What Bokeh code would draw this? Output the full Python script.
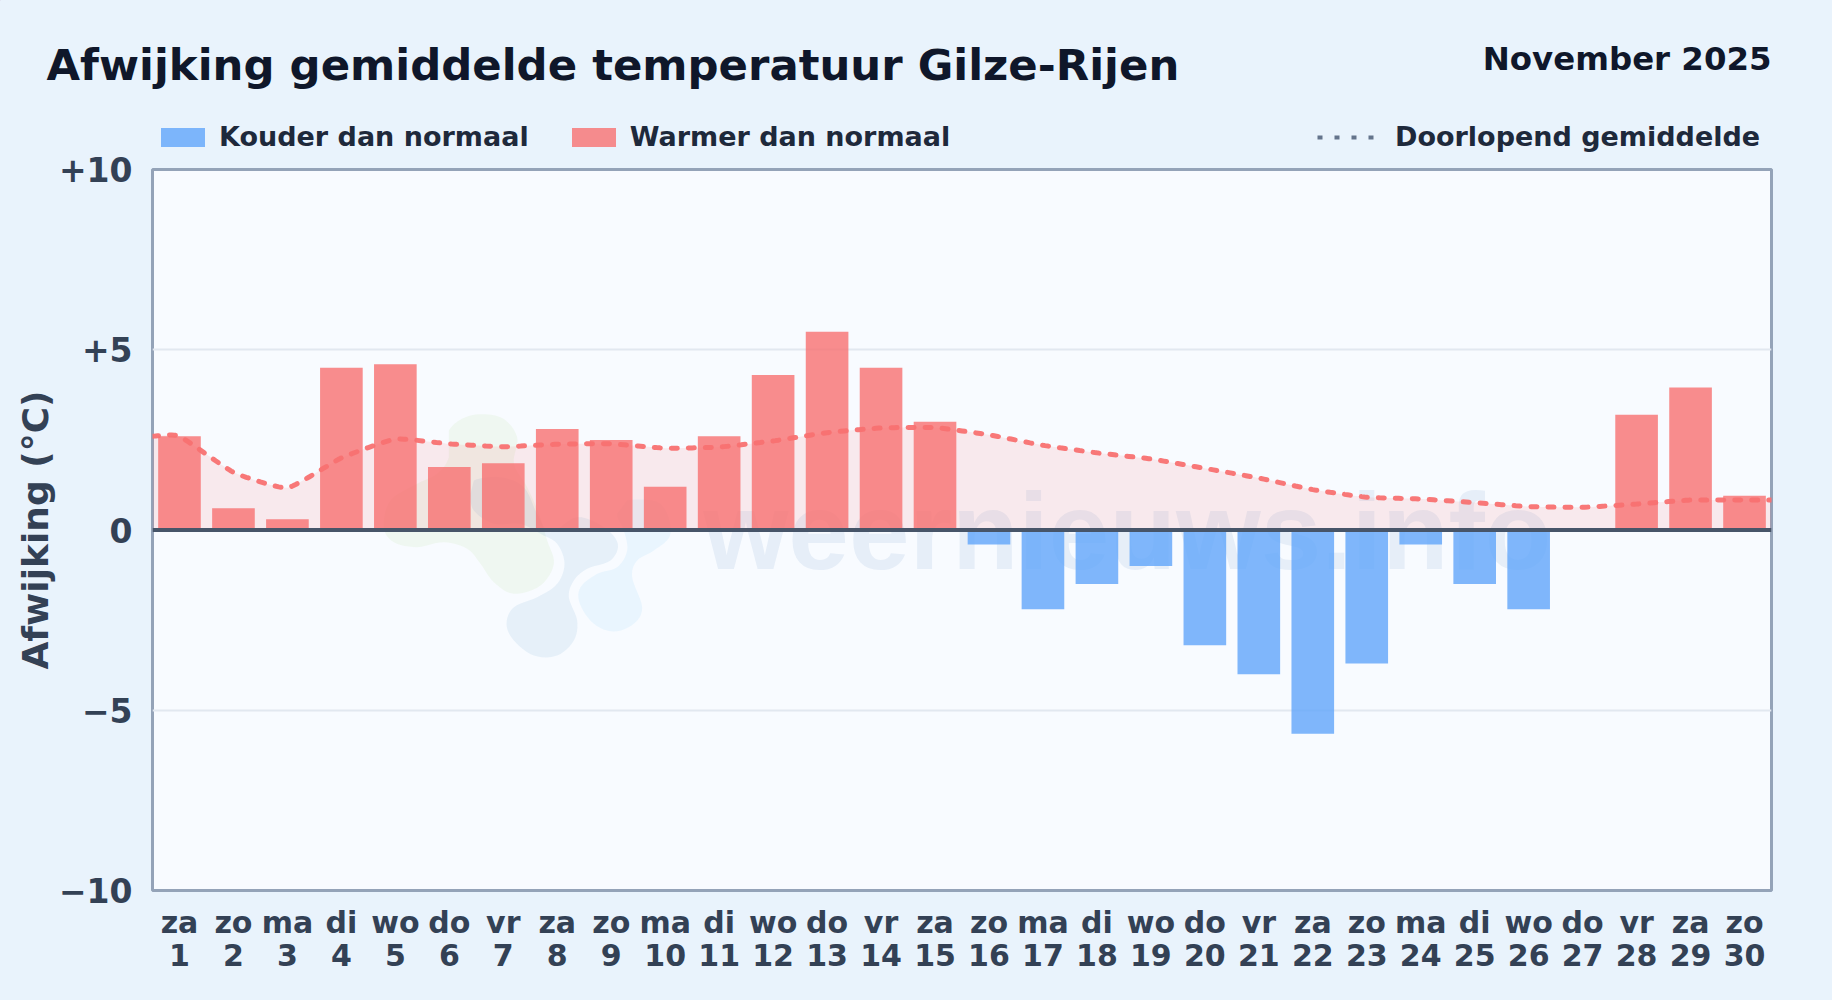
from bokeh.plotting import figure
from bokeh.layouts import column
from bokeh.models import (ColumnDataSource, FixedTicker, Label, Legend, LegendItem, Range1d, Span)
from bokeh.core.properties import value
from bokeh.embed import file_html
from bokeh.resources import INLINE

days = list(range(1, 31))
weekdays = ["za","zo","ma","di","wo","do","vr","za","zo","ma","di","wo","do","vr","za",
            "zo","ma","di","wo","do","vr","za","zo","ma","di","wo","do","vr","za","zo"]
deviation = [2.6,0.6,0.3,4.5,4.6,1.75,1.85,2.8,2.5,1.2,2.6,4.3,5.5,4.5,3.0,
             -0.4,-2.2,-1.5,-1.0,-3.2,-4.0,-5.65,-3.7,-0.4,-1.5,-2.2,0.0,3.2,3.95,0.95]
running_mean = [2.6,1.6,1.17,2.0,2.52,2.39,2.31,2.38,2.39,2.27,2.3,2.47,2.7,2.83,2.84,
                2.64,2.35,2.14,1.97,1.71,1.44,1.12,0.91,0.86,0.76,0.65,0.63,0.72,0.83,0.83]
y_ticks = [-10,-5,0,5,10]
y_tick_labels = ["\u221210","\u22125","0","+5","+10"]
title_text = "Afwijking gemiddelde temperatuur Gilze-Rijen"
period_text = "November 2025"
y_title = "Afwijking (\u00b0C)"
legend_cold = "Kouder dan normaal"
legend_warm = "Warmer dan normaal"
legend_mean = "Doorlopend gemiddelde"
watermark = "weernieuws.info"

W, H = 1832, 1000
HEAD = 153
OVERLAP = 10
FL, FT, FW, FH = 152, 169, 1619, 721
FONT = "DejaVu Sans"
BG = "#e9f3fc"
COLD, WARM = "#60a5fa", "#f87171"

# ---------- main chart ----------
p = figure(width=W, height=H-HEAD+OVERLAP, output_backend="svg", toolbar_location=None,
           x_range=Range1d(0.5, 30.5), y_range=Range1d(-10, 10),
           frame_width=FW, frame_height=FH, frame_align=False,
           min_border_left=FL, min_border_top=FT-HEAD+OVERLAP,
           min_border_right=W-FL-FW, min_border_bottom=H-FT-FH,
           background_fill_color="#f8fbff", border_fill_color=BG,
           outline_line_color="#94a3b8", outline_line_width=3)
p.styles = {"margin-top": f"-{OVERLAP}px"}

def px(x): return 0.5 + (x - FL) / FW * 30
def py(y): return 10 - (y - FT) / FH * 20

def smooth(xs, ys, k=0.45, n=14):
    """Cardinal spline through the read points, for drawing the curve."""
    ox, oy = [], []
    m = len(xs)
    for i in range(m - 1):
        a = max(i - 1, 0); d = min(i + 2, m - 1)
        x0, x1 = xs[i], xs[i + 1]
        y0, y1 = ys[i], ys[i + 1]
        t0x = k * (x1 - xs[a]) / 2; t0y = k * (y1 - ys[a]) / 2
        t1x = k * (xs[d] - x0) / 2; t1y = k * (ys[d] - y0) / 2
        for j in range(n):
            t = j / n
            h00 = 2*t**3 - 3*t**2 + 1; h10 = t**3 - 2*t**2 + t
            h01 = -2*t**3 + 3*t**2; h11 = t**3 - t**2
            ox.append(h00*x0 + h10*t0x + h01*x1 + h11*t1x)
            oy.append(h00*y0 + h10*t0y + h01*y1 + h11*t1y)
    ox.append(xs[-1]); oy.append(ys[-1])
    return ox, oy

def blob(points):
    pts = [(360 + a / 3, 400 + b / 3) for a, b in points]
    xs = [q[0] for q in pts]; ys = [q[1] for q in pts]
    xs = xs[-2:] + xs + xs[:2]; ys = ys[-2:] + ys + ys[:2]
    ox, oy = smooth(xs, ys, k=1.0, n=6)
    return [px(v) for v in ox[12:-12]], [py(v) for v in oy[12:-12]]

# watermark logo
green = [(265,90),(330,45),(420,50),(470,110),(460,190),(500,260),(535,340),(560,420),(580,490),(540,555),
         (460,580),(400,545),(360,490),(320,445),(250,425),(170,440),(100,425),(70,380),(90,300),(170,250),(230,220),(265,170)]
dark = [(340,240),(420,230),(490,260),(530,340),(570,395),(650,350),(730,380),(772,430),(750,480),(680,505),(640,540),
        (625,590),(650,660),(640,720),(590,765),(520,765),(460,720),(438,670),(460,620),(530,590),(590,550),(612,490),
        (590,430),(540,400),(480,370),(400,370),(340,330),(330,280)]
light = [(800,300),(900,310),(930,400),(880,450),(830,480),(815,530),(845,620),(820,670),(760,693),(700,670),
         (658,610),(660,560),(710,520),(770,500),(800,450),(790,390),(770,340)]
for shape, col, al in [(green, "#a3d977", 0.1), (dark, "#3a80b8", 0.09), (light, "#5ab8f5", 0.09)]:
    bx, by = blob(shape)
    p.patch(bx, by, fill_color=col, fill_alpha=al, line_color=None)

p.text([px(703)], [py(530)], text=[watermark], text_font=value("Liberation Sans"),
       text_font_style="bold", text_font_size="109px", text_color="#3674b5", text_alpha=0.09,
       text_baseline="alphabetic", text_align="left")

# running-mean area and curve
mx, my = smooth([0.5] + days + [30.5], [running_mean[0]] + running_mean + [running_mean[-1]])
p.varea(mx, [0]*len(mx), my, fill_color=WARM, fill_alpha=0.13)

neg = ColumnDataSource(dict(x=[d for d, v in zip(days, deviation) if v < 0],
                            top=[v for v in deviation if v < 0]))
pos = ColumnDataSource(dict(x=[d for d, v in zip(days, deviation) if v > 0],
                            top=[v for v in deviation if v > 0]))
p.vbar(x="x", top="top", bottom=0, width=0.79, source=neg, fill_color=COLD, fill_alpha=0.8, line_color=None)
p.vbar(x="x", top="top", bottom=0, width=0.79, source=pos, fill_color=WARM, fill_alpha=0.8, line_color=None)

p.line(mx, my, line_color=WARM, line_width=5, line_dash="6 11", line_cap="round", line_alpha=0.95)
p.add_layout(Span(location=0, dimension="width", line_color="#475569", line_width=4))

p.xaxis.ticker = FixedTicker(ticks=days)
p.xaxis.major_label_overrides = {d: f"{w}\n{d}" for d, w in zip(days, weekdays)}
p.yaxis.ticker = FixedTicker(ticks=y_ticks)
p.yaxis.major_label_overrides = dict(zip(y_ticks, y_tick_labels))
for ax in (p.xaxis, p.yaxis):
    ax.axis_line_color = None
    ax.major_tick_line_color = None
    ax.minor_tick_line_color = None
    ax.major_label_text_font = FONT
    ax.major_label_text_font_style = "bold"
    ax.major_label_text_color = "#334155"
p.xaxis.major_label_text_font_size = "30px"
p.xaxis.major_label_text_line_height = 0.945
p.xaxis.major_label_standoff = 8
p.yaxis.major_label_text_font_size = "33px"
p.yaxis.major_label_standoff = 14
p.yaxis.axis_label = y_title
p.yaxis.axis_label_text_font = FONT
p.yaxis.axis_label_text_font_style = "bold"
p.yaxis.axis_label_text_font_size = "36px"
p.yaxis.axis_label_text_color = "#334155"
p.yaxis.axis_label_standoff = 0

p.xgrid.visible = False
p.ygrid.ticker = FixedTicker(ticks=[-5, 5])
p.ygrid.grid_line_color = "#e2e8f0"
p.ygrid.grid_line_width = 1.8

# ---------- header: title, period, legends (transparent, lies above the chart's top margin) ----------
h = figure(width=W, height=HEAD, output_backend="svg", toolbar_location=None,
           x_range=Range1d(0, W), y_range=Range1d(HEAD, 0), frame_align=False,
           x_axis_location=None, y_axis_location=None, min_border=0,
           background_fill_alpha=0, border_fill_alpha=0, outline_line_color=None)
h.styles = {"position": "relative", "z-index": "2", "pointer-events": "none"}
h.grid.visible = False

h.add_layout(Label(x=46, y=64, text=title_text, text_font=FONT, text_font_style="bold",
                   text_font_size="43.4px", text_color="#0f172a",
                   text_baseline="alphabetic", text_align="left"))
h.add_layout(Label(x=1771, y=58.5, text=period_text, text_font=FONT, text_font_style="bold",
                   text_font_size="32.4px", text_color="#0f172a",
                   text_baseline="alphabetic", text_align="right"))

key_cold = h.vbar(x=[-50], top=[-50], bottom=[-60], width=1, fill_color=COLD, fill_alpha=0.8, line_color=None)
key_warm = h.vbar(x=[-50], top=[-50], bottom=[-60], width=1, fill_color=WARM, fill_alpha=0.8, line_color=None)
key_mean = h.line([-60, -50], [-50, -50], line_color="#64748b", line_width=4, line_dash="5 12")

def make(items, x, gw, gh, st, sp):
    return Legend(items=items, orientation="horizontal", location=(x, 1),
                  background_fill_alpha=0, border_line_color=None, padding=0, margin=0,
                  glyph_width=gw, glyph_height=gh, label_standoff=st, spacing=sp,
                  label_text_font=FONT, label_text_font_style="bold", label_text_font_size="27px",
                  label_text_color="#1e293b", label_height=24)

h.add_layout(make([LegendItem(label=legend_cold, renderers=[key_cold]),
                   LegendItem(label=legend_warm, renderers=[key_warm])], 155, 55, 24, 9, 37), "center")
h.add_layout(make([LegendItem(label=legend_mean, renderers=[key_mean])], 1317, 58, 24, 20, 0), "center")

page = column(h, p, spacing=0)
page.styles = {"position": "absolute", "left": "0", "top": "0", "background-color": BG}

open("out.html", "w").write(file_html(page, INLINE))
